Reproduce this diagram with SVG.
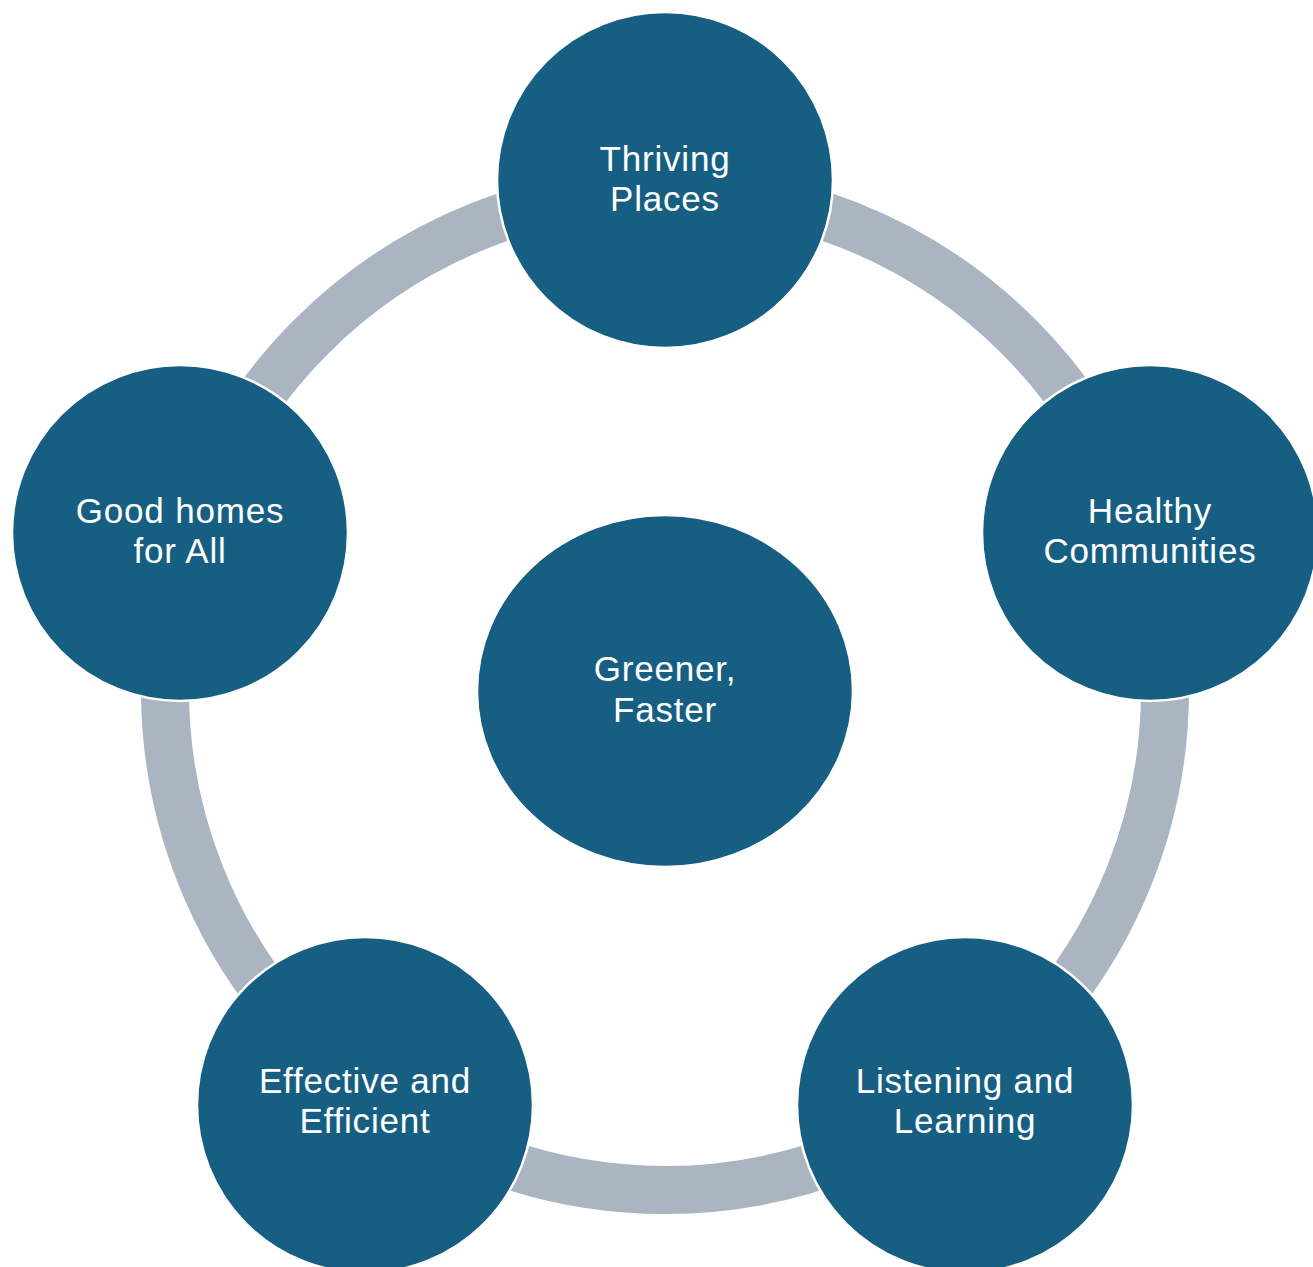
<svg xmlns="http://www.w3.org/2000/svg" width="1313" height="1267" viewBox="0 0 1313 1267">
<style>
.node{fill:#175F82;stroke:#FFFFFF;stroke-width:2.5}
.lbl{fill:#FFFFFF;font-family:"Liberation Sans",Arial,sans-serif;font-size:35px;letter-spacing:0.8px;text-anchor:middle}
</style>
<rect width="1313" height="1267" fill="#FFFFFF"/>
<g id="connectors">
<circle cx="665" cy="690" r="500" fill="none" stroke="#AAB5C1" stroke-width="48"/>
</g>
<g id="node-center">
<ellipse class="node" cx="665" cy="691" rx="188" ry="176"/>
<text class="lbl"><tspan x="665" y="681">Greener,</tspan><tspan x="665" y="722">Faster</tspan></text>
</g>
<g id="node-thriving">
<circle class="node" cx="665" cy="180" r="168"/>
<text class="lbl"><tspan x="665" y="171">Thriving</tspan><tspan x="665" y="211">Places</tspan></text>
</g>
<g id="node-healthy">
<circle class="node" cx="1150" cy="533" r="168"/>
<text class="lbl"><tspan x="1150" y="523">Healthy</tspan><tspan x="1150" y="563">Communities</tspan></text>
</g>
<g id="node-listening">
<circle class="node" cx="965" cy="1105" r="168"/>
<text class="lbl"><tspan x="965" y="1093">Listening and</tspan><tspan x="965" y="1133">Learning</tspan></text>
</g>
<g id="node-effective">
<circle class="node" cx="365" cy="1105" r="168"/>
<text class="lbl"><tspan x="365" y="1093">Effective and</tspan><tspan x="365" y="1133">Efficient</tspan></text>
</g>
<g id="node-goodhomes">
<circle class="node" cx="180" cy="533" r="168"/>
<text class="lbl"><tspan x="180" y="523">Good homes</tspan><tspan x="180" y="563">for All</tspan></text>
</g>
</svg>
